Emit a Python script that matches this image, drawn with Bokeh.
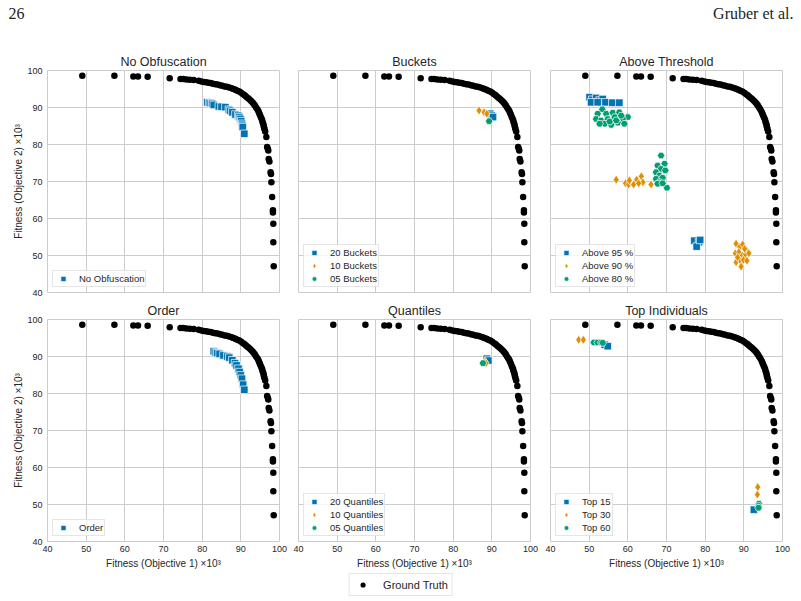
from bokeh.plotting import figure
from bokeh.layouts import column, row
from bokeh.models import Range1d, FixedTicker, Legend, LegendItem, Label
from bokeh.embed import file_html
from bokeh.resources import INLINE

# ---------------- data ----------------
ticks = [40, 50, 60, 70, 80, 90, 100]

gt_x = [49.0, 57.3, 62.2, 63.4, 65.9, 71.6, 74.4, 75.1, 75.9, 76.8, 77.8, 79.1,
        79.8, 80.4, 81.0, 81.6, 82.2, 82.8, 83.4, 84.0, 84.6, 85.2, 85.8, 86.4,
        87.0, 87.6, 88.1, 88.6, 89.1, 89.6, 90.1, 90.6, 91.0, 91.4, 91.8, 92.2,
        92.6, 93.0, 93.3, 93.6, 93.9, 94.2, 94.5, 94.7, 94.9, 95.1, 95.3, 95.5,
        95.6, 95.8, 95.9, 96.0, 96.1,
        96.3, 96.6, 96.8, 97.0, 97.1, 97.2, 97.4, 97.7, 97.8, 97.9, 98.1, 98.3,
        98.3, 98.4, 98.4, 98.5]
gt_y = [98.6, 98.6, 98.4, 98.4, 98.3, 97.9, 97.7, 97.7, 97.6, 97.5, 97.4, 97.2,
        97.0, 96.9, 96.8, 96.7, 96.6, 96.4, 96.3, 96.2, 96.0, 95.9, 95.7, 95.6,
        95.4, 95.2, 95.0, 94.8, 94.5, 94.3, 94.0, 93.6, 93.3, 92.9, 92.6, 92.2,
        91.8, 91.4, 91.0, 90.6, 90.1, 89.6, 89.1, 88.6, 88.1, 87.6, 87.1, 86.6,
        86.1, 85.6, 85.1, 84.6, 84.2,
        83.5, 82.0, 79.3, 78.8, 78.4, 76.1, 75.4, 72.5, 72.0, 69.8, 65.8, 62.2,
        61.6, 58.6, 53.6, 47.1]

noobf_x = [81.3, 81.8, 82.2, 82.6, 83.0, 84.3, 85.0, 86.0, 86.9, 87.3, 87.8, 88.6,
           89.3, 89.6, 89.9, 90.1, 90.3, 90.4, 90.5, 90.9]
noobf_y = [91.4, 91.3, 91.2, 91.0, 90.7, 90.3, 90.2, 90.1, 89.4, 89.1, 88.7, 88.1,
           87.8, 87.4, 86.9, 86.3, 85.6, 85.1, 84.7, 82.9]

b20_x = [89.6, 90.0, 90.3]
b20_y = [88.3, 87.8, 87.4]
b10_x = [86.7, 88.0, 88.7]
b10_y = [89.2, 88.7, 88.3]
b05_x = [89.3]
b05_y = [86.3]

a95_x = [50.1, 50.8, 51.8, 52.7, 53.5, 54.2, 56.0, 57.8, 50.5, 52.2,
         77.2, 78.4, 77.8, 78.7]
a95_y = [92.8, 92.1, 92.6, 91.9, 92.3, 91.4, 91.3, 91.3, 91.4, 91.4,
         54.0, 53.6, 52.4, 54.2]
a90_x = [57.0, 59.4, 60.2, 61.5, 62.3, 63.5, 63.9, 66.0, 62.8, 60.4,
         88.0, 88.9, 89.7, 90.8, 87.8, 88.7, 89.6, 90.4, 91.3, 88.0, 89.1, 89.9,
         90.8, 89.3, 88.4, 90.2]
a90_y = [70.5, 69.5, 69.2, 69.2, 70.5, 71.4, 69.8, 69.2, 69.5, 70.3,
         53.2, 52.3, 53.0, 51.3, 50.6, 50.9, 50.0, 50.3, 50.6, 48.2, 48.6, 48.8,
         48.6, 47.0, 49.5, 51.8]
a80_x = [53.4, 52.2, 54.4, 56.1, 57.8, 60.0, 51.8, 53.1, 54.8, 56.6, 58.7, 54.0,
         55.7, 57.4, 59.1, 52.7, 55.3, 57.0, 58.3,
         68.6, 67.7, 69.5, 68.6, 67.3, 69.7, 68.2, 67.3, 69.0, 68.2, 67.7, 70.1, 69.0]
a80_y = [89.5, 88.3, 88.3, 88.6, 88.7, 87.4, 86.9, 86.5, 86.9, 87.4, 86.9, 85.6,
         85.3, 85.9, 85.6, 85.6, 86.2, 86.5, 87.8,
         77.0, 74.3, 74.8, 73.4, 72.5, 73.0, 71.6, 70.7, 71.0, 69.8, 69.4, 68.3, 69.5]

order_x = [83.0, 83.5, 83.9, 84.5, 85.5, 86.5, 87.0, 87.8, 88.5, 88.9, 89.4, 89.7,
           90.0, 90.3, 90.6, 90.9]
order_y = [91.4, 91.1, 90.9, 90.7, 90.3, 90.0, 89.7, 89.0, 88.2, 87.6, 86.7, 85.8,
           84.9, 84.0, 82.4, 81.0]

q20_x = [88.7, 89.1]
q20_y = [89.4, 88.9]
q10_x = [88.2, 88.5]
q10_y = [88.6, 88.2]
q05_x = [87.7]
q05_y = [88.2]

t15_x = [54.0, 54.8, 92.6]
t15_y = [93.2, 92.8, 48.6]
t30_x = [47.3, 48.5, 93.6, 93.5]
t30_y = [94.5, 94.5, 54.7, 52.7]
t60_x = [51.2, 52.2, 53.1, 53.5, 93.9, 93.8, 93.8]
t60_y = [93.8, 93.8, 93.8, 93.7, 50.2, 49.6, 49.1]

# ---------------- style ----------------
BLUE = "#0173b2"
ORANGE = "#de8f05"
GREEN = "#029e73"
FONT = "Liberation Sans"
TXT = "#262626"
GRID = "#cccccc"

MARK = {"s": ("square", 7.5), "d": ("diamond", 9), "p": ("hex", 7.5)}


def make_panel(title, series, left, right, top, bottom, show_x, show_y):
    p = figure(width=left + 232 + right, height=top + 222 + bottom,
               x_range=Range1d(40, 100), y_range=Range1d(40, 100),
               output_backend="svg", toolbar_location=None,
               min_border_left=left, min_border_right=right,
               min_border_top=top, min_border_bottom=bottom,
               background_fill_color="white", border_fill_color="white")
    p.title.text = title
    p.title.align = "center"
    p.title.text_font = FONT
    p.title.text_font_size = "12.5px"
    p.title.text_font_style = "normal"
    p.title.text_color = TXT
    p.title.standoff = 3
    p.outline_line_color = GRID
    p.outline_line_width = 1
    for ax in (p.xaxis, p.yaxis):
        ax.ticker = FixedTicker(ticks=ticks)
        ax.axis_line_color = None
        ax.major_tick_line_color = None
        ax.minor_tick_line_color = None
        ax.major_tick_out = 0
        ax.major_tick_in = 0
        ax.major_label_text_font = FONT
        ax.major_label_text_font_size = "9px"
        ax.major_label_text_color = TXT
        ax.axis_label_text_font = FONT
        ax.axis_label_text_font_size = "10px"
        ax.axis_label_text_font_style = "normal"
        ax.axis_label_text_color = TXT
    p.xaxis.major_label_standoff = 4
    p.yaxis.major_label_standoff = 5
    p.xaxis.axis_label_standoff = 3
    p.yaxis.axis_label_standoff = 0
    p.xgrid.ticker = FixedTicker(ticks=ticks)
    p.ygrid.ticker = FixedTicker(ticks=ticks)
    p.grid.grid_line_color = GRID
    p.grid.grid_line_width = 1
    if show_x:
        p.xaxis.axis_label = "Fitness (Objective 1) \u00d710\u00b3"
    else:
        p.xaxis.visible = False
    if show_y:
        p.yaxis.axis_label = "Fitness (Objective 2) \u00d710\u00b3"
    else:
        p.yaxis.visible = False

    p.scatter(gt_x, gt_y, marker="circle", size=6.5, fill_color="black",
              line_color=None)
    items = []
    for label, xs, ys, m, color in series:
        mk, sz = MARK[m]
        r = p.scatter(xs, ys, marker=mk, size=sz, fill_color=color,
                      line_color="white", line_width=0.7)
        items.append(LegendItem(label=label, renderers=[r]))
    leg = Legend(items=items, location="bottom_left", margin=5, padding=1,
                 spacing=0, glyph_width=18, glyph_height=13, label_height=13,
                 label_standoff=7, label_text_font=FONT,
                 label_text_font_size="9.5px", label_text_color=TXT,
                 border_line_color=GRID, border_line_width=1,
                 background_fill_color="white", background_fill_alpha=0.8)
    p.add_layout(leg)
    return p


p1 = make_panel("No Obfuscation", [("No Obfuscation", noobf_x, noobf_y, "s", BLUE)],
                47, 9, 30, 5, False, True)
p2 = make_panel("Buckets", [("20 Buckets", b20_x, b20_y, "s", BLUE),
                            ("10 Buckets", b10_x, b10_y, "d", ORANGE),
                            ("05 Buckets", b05_x, b05_y, "p", GREEN)],
                10, 10, 30, 5, False, False)
p3 = make_panel("Above Threshold", [("Above 95 %", a95_x, a95_y, "s", BLUE),
                                    ("Above 90 %", a90_x, a90_y, "d", ORANGE),
                                    ("Above 80 %", a80_x, a80_y, "p", GREEN)],
                10, 19, 30, 5, False, False)
p4 = make_panel("Order", [("Order", order_x, order_y, "s", BLUE)],
                47, 9, 22, 31, True, True)
p5 = make_panel("Quantiles", [("20 Quantiles", q20_x, q20_y, "s", BLUE),
                              ("10 Quantiles", q10_x, q10_y, "d", ORANGE),
                              ("05 Quantiles", q05_x, q05_y, "p", GREEN)],
                10, 10, 22, 31, True, False)
p6 = make_panel("Top Individuals", [("Top 15", t15_x, t15_y, "s", BLUE),
                                    ("Top 30", t30_x, t30_y, "d", ORANGE),
                                    ("Top 60", t60_x, t60_y, "p", GREEN)],
                10, 19, 22, 31, True, False)

# header
hdr = figure(width=801, height=40, x_range=Range1d(0, 801), y_range=Range1d(0, 40),
             output_backend="svg", toolbar_location=None, min_border=0,
             x_axis_location=None, y_axis_location=None)
hdr.outline_line_color = None
hdr.grid.visible = False
hdr.add_layout(Label(x=8, y=27, x_units="screen", y_units="screen", text="26",
                     text_font="Liberation Serif", text_font_size="16px",
                     text_color="#222222", text_baseline="middle"))
hdr.add_layout(Label(x=793, y=27, x_units="screen", y_units="screen",
                     text="Gruber et al.", text_font="Liberation Serif",
                     text_font_size="16px", text_color="#222222",
                     text_baseline="middle", text_align="right"))

# footer legend
ftr = figure(width=801, height=29, x_range=Range1d(0, 1), y_range=Range1d(0, 1),
             output_backend="svg", toolbar_location=None, min_border=0,
             x_axis_location=None, y_axis_location=None)
ftr.outline_line_color = None
ftr.grid.visible = False
rg = ftr.scatter(gt_x, gt_y, marker="circle", size=6.5, fill_color="black",
                 line_color=None)
fleg = Legend(items=[LegendItem(label="Ground Truth", renderers=[rg])],
              location="top_center", margin=1, padding=4, spacing=0,
              glyph_width=18, glyph_height=13, label_height=13, label_standoff=12,
              label_text_font=FONT, label_text_font_size="11px",
              label_text_color=TXT, border_line_color=GRID,
              background_fill_color="white")
ftr.add_layout(fleg)

layout = column(hdr, row(p1, p2, p3), row(p4, p5, p6), ftr)

open("out.html", "w").write(file_html(layout, INLINE))
